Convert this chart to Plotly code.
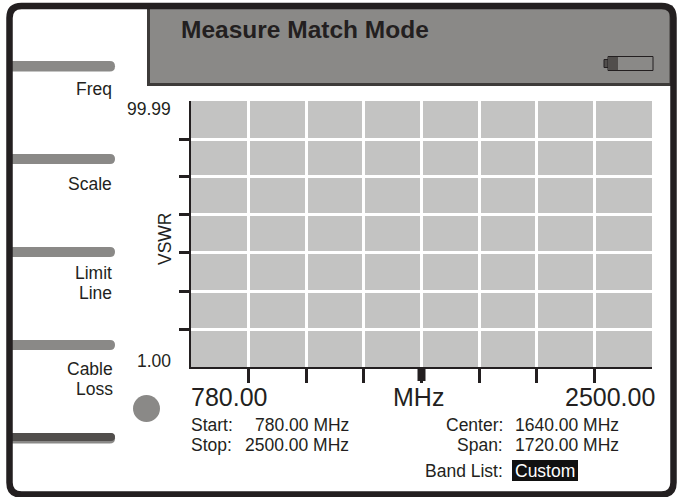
import plotly.graph_objects as go

W, H = 677, 497

freq_ticks = [995, 1210, 1425, 1640, 1855, 2070, 2285]
vswr_ticks = [15.14, 29.28, 43.43, 57.57, 71.71, 85.85]
freq_range = [780, 2500]
vswr_range = [1.00, 99.99]

softkeys = ['Freq', 'Scale', 'Limit', 'Line', 'Cable', 'Loss']
start_freq = '780.00 MHz'
stop_freq = '2500.00 MHz'
center_freq = '1640.00 MHz'
span_freq = '1720.00 MHz'

INK = '#231f20'
GREY = '#8a8987'
PLOT = '#c3c3c2'
FONT = 'Liberation Sans, Arial, sans-serif'
SMALL = 17.5


def px(x):
    return x / W


def py(y):
    return 1 - y / H


def label(x, y, text, size=SMALL, anchor='left', color=INK, bold=False, angle=0):
    if bold:
        text = '<b>' + text + '</b>'
    return dict(x=px(x), y=py(y), xref='paper', yref='paper', text=text, showarrow=False,
                xanchor=anchor, yanchor='middle', textangle=angle, align='right',
                font=dict(family=FONT, size=size, color=color), borderpad=0, borderwidth=0)


def path_shape(path, fill=None, line=None, width=0):
    return dict(type='path', path=path, xref='paper', yref='paper',
                fillcolor=fill if fill else 'rgba(0,0,0,0)',
                line=dict(color=line if line else 'rgba(0,0,0,0)', width=width), layer='above')


def rect(x0, y0, x1, y1, fill=None, line=None, width=0):
    return dict(type='rect', xref='paper', yref='paper', x0=px(x0), x1=px(x1), y0=py(y1), y1=py(y0),
                fillcolor=fill if fill else 'rgba(0,0,0,0)',
                line=dict(color=line if line else 'rgba(0,0,0,0)', width=width), layer='above')


def pill(y0, y1, color):
    # softkey bar, rounded at its right end
    r = (y1 - y0) / 2
    return path_shape(
        f'M {px(12)} {py(y0)} L {px(115 - r)} {py(y0)} '
        f'Q {px(115)} {py(y0)} {px(115)} {py(y0 + r)} '
        f'Q {px(115)} {py(y1)} {px(115 - r)} {py(y1)} L {px(12)} {py(y1)} Z', fill=color)


def frame(l, t, r, b, c):
    return (f'M {px(l + c)} {py(t)} L {px(r - c)} {py(t)} Q {px(r)} {py(t)} {px(r)} {py(t + c)} '
            f'L {px(r)} {py(b - c)} Q {px(r)} {py(b)} {px(r - c)} {py(b)} '
            f'L {px(l + c)} {py(b)} Q {px(l)} {py(b)} {px(l)} {py(b - c)} '
            f'L {px(l)} {py(t + c)} Q {px(l)} {py(t)} {px(l + c)} {py(t)} Z')


shapes = [
    # header panel
    rect(148.5, 7, 671, 84.5, fill=GREY, line='#3d3b39', width=3),
    # softkey bars
    pill(61, 71.5, GREY),
    pill(154, 164, GREY),
    pill(247, 257, GREY),
    pill(340, 350, GREY),
    pill(433, 443.5, GREY),
    pill(433, 441, '#514e4c'),
    # knob
    dict(type='circle', xref='paper', yref='paper', x0=px(133), x1=px(160), y0=py(422), y1=py(395),
         fillcolor=GREY, line=dict(width=0), layer='above'),
    # battery
    rect(608, 56.5, 653, 70.5, fill=GREY, line=INK, width=1),
    rect(604, 59.5, 608, 67.5, fill='#514e4c', line=INK, width=1),
    rect(608, 57, 618, 70, fill='#514e4c'),
    # centre tick on the frequency axis
    dict(type='line', xref='x', yref='paper', x0=1640, x1=1640, y0=py(367), y1=py(381),
         line=dict(color=INK, width=8), layer='above'),
    # band list highlight
    rect(512, 460, 578, 481, fill='#111111'),
    # outer case
    path_shape(frame(9.5, 6, 673.5, 494.5, 12), line=INK, width=6.5),
]

annotations = [
    label(181, 29, 'Measure Match Mode', size=24.5, bold=True),
    label(112, 89, softkeys[0], anchor='right'),
    label(112, 184, softkeys[1], anchor='right'),
    label(112, 273, softkeys[2], anchor='right'),
    label(112, 293, softkeys[3], anchor='right'),
    label(113, 369, softkeys[4], anchor='right'),
    label(113, 389, softkeys[5], anchor='right'),
    label(171, 109, '99.99', anchor='right'),
    label(171, 361, '1.00', anchor='right'),
    label(165, 239, 'VSWR', anchor='center', angle=-90),
    label(191, 397, '780.00', size=25),
    label(418, 397, 'MHz', size=25, anchor='center'),
    label(655, 397, '2500.00', size=25, anchor='right'),
    label(191, 425, 'Start:'),
    label(349, 425, start_freq, anchor='right'),
    label(191, 445, 'Stop:'),
    label(349, 445, stop_freq, anchor='right'),
    label(503, 425, 'Center:', anchor='right'),
    label(619, 425, center_freq, anchor='right'),
    label(503, 445, 'Span:', anchor='right'),
    label(619, 445, span_freq, anchor='right'),
    label(503, 471, 'Band List:', anchor='right'),
    label(545, 471, 'Custom', anchor='center', color='white'),
]

fig = go.Figure()
fig.update_layout(
    width=W, height=H, autosize=False,
    margin=dict(l=0, r=0, t=0, b=0),
    paper_bgcolor='white', plot_bgcolor=PLOT,
    showlegend=False,
    xaxis=dict(domain=[px(191), px(652)], range=freq_range, tickvals=freq_ticks, showticklabels=False,
               ticks='outside', ticklen=14, tickwidth=3, tickcolor=INK,
               showgrid=True, gridcolor='white', gridwidth=3, zeroline=False,
               showline=True, linecolor=INK, linewidth=2),
    yaxis=dict(domain=[py(367), py(101)], range=vswr_range, tickvals=vswr_ticks, showticklabels=False,
               ticks='outside', ticklen=10, tickwidth=3, tickcolor=INK,
               showgrid=True, gridcolor='white', gridwidth=3, zeroline=False,
               showline=True, linecolor=INK, linewidth=2),
    shapes=shapes,
    annotations=annotations,
)

# page has a default body margin that would push the figure off the window
fig.write_html("out.html", config={'displayModeBar': False},
               post_script="document.body.style.margin='0';document.body.style.overflow='hidden';")
